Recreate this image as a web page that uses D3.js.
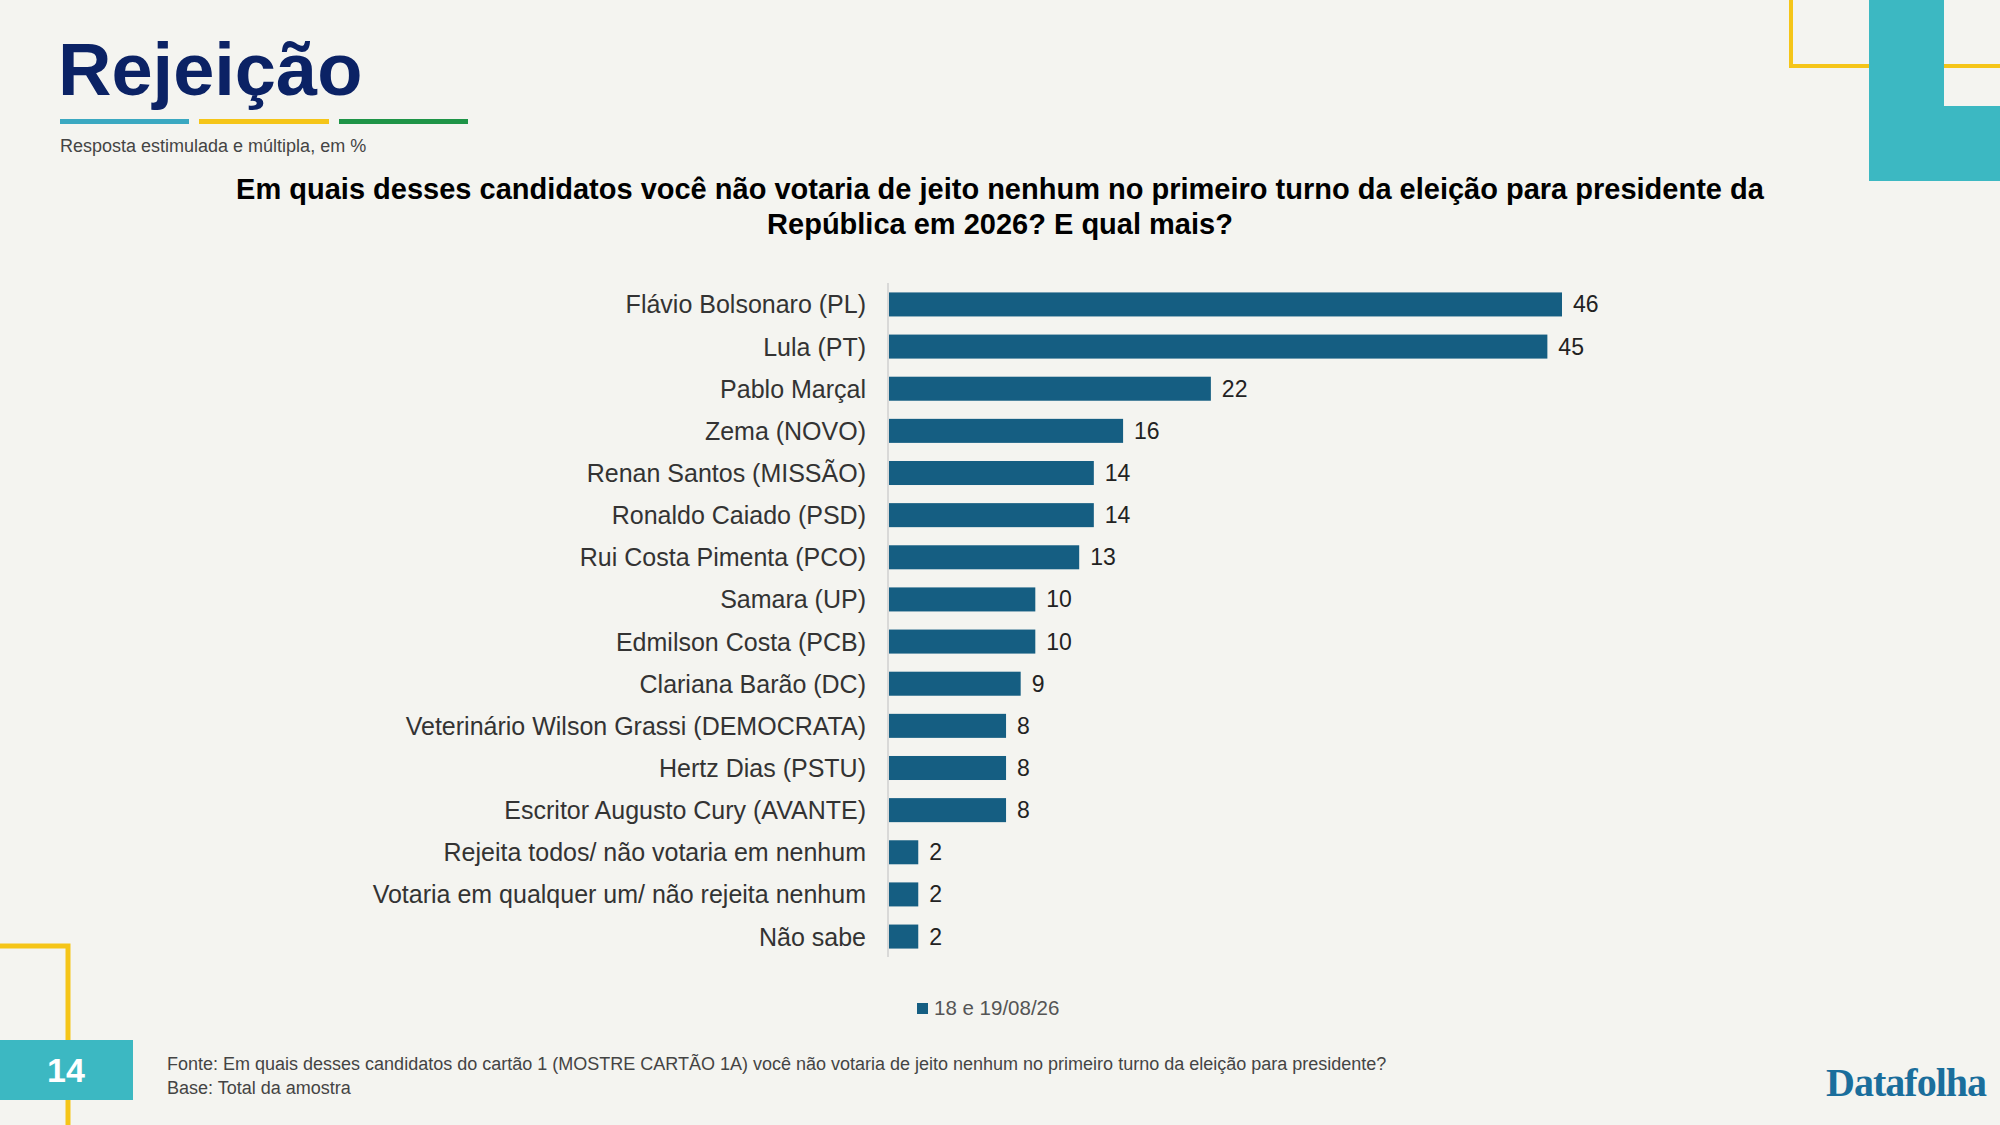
<!DOCTYPE html><html><head><meta charset="utf-8"><script src="https://cdn.jsdelivr.net/npm/d3@7"></script>
<style>body{margin:0;background:#f4f4f0}</style></head><body><svg id="c" width="2000" height="1125"></svg>
<script>
const categories=["Flávio Bolsonaro (PL)","Lula (PT)","Pablo Marçal","Zema (NOVO)","Renan Santos (MISSÃO)","Ronaldo Caiado (PSD)","Rui Costa Pimenta (PCO)","Samara (UP)","Edmilson Costa (PCB)","Clariana Barão (DC)","Veterinário Wilson Grassi (DEMOCRATA)","Hertz Dias (PSTU)","Escritor Augusto Cury (AVANTE)","Rejeita todos/ não votaria em nenhum","Votaria em qualquer um/ não rejeita nenhum","Não sabe"];
const values=[46,45,22,16,14,14,13,10,10,9,8,8,8,2,2,2];
const seriesName="18 e 19/08/26";
const svg=d3.select("#c");
const F="'Liberation Sans',Arial,sans-serif";
svg.append("rect").attr("width",2000).attr("height",1125).attr("fill","#f4f4f0");
svg.append("path").attr("d","M1791,0V66H2000").attr("fill","none").attr("stroke","#f5c518").attr("stroke-width",4);
svg.append("path").attr("d","M1869,0H1944V106H2000V181H1869Z").attr("fill","#3cb8c2");
svg.append("path").attr("d","M0,946H68V1125").attr("fill","none").attr("stroke","#f5c518").attr("stroke-width",5);
svg.append("rect").attr("x",0).attr("y",1040).attr("width",133).attr("height",60).attr("fill","#3cb8c2");
svg.append("text").attr("x",66).attr("y",1082).attr("text-anchor","middle").attr("fill","#fff").attr("font-family",F).attr("font-weight","bold").attr("font-size",34).text("14");
svg.append("text").attr("x",58).attr("y",95).attr("fill","#0b2265").attr("font-family",F).attr("font-weight","bold").attr("font-size",74).text("Rejeição");
[["#3aa8c1",60,189],["#f5c518",199,329],["#1e9447",339,468]].forEach(([c,a,b])=>svg.append("rect").attr("x",a).attr("y",119).attr("width",b-a).attr("height",5).attr("fill",c));
svg.append("text").attr("x",60).attr("y",152).attr("fill","#444").attr("font-family",F).attr("font-size",18).text("Resposta estimulada e múltipla, em %");
const q=svg.append("text").attr("text-anchor","middle").attr("fill","#000").attr("font-family",F).attr("font-weight","bold").attr("font-size",29);
q.append("tspan").attr("x",1000).attr("y",199).text("Em quais desses candidatos você não votaria de jeito nenhum no primeiro turno da eleição para presidente da");
q.append("tspan").attr("x",1000).attr("y",234).text("República em 2026? E qual mais?");
const x=d3.scaleLinear().domain([0,46]).range([888,1561]);
const y=d3.scaleBand().domain(categories).range([284,957]).paddingInner(0.43).paddingOuter(0.2);
svg.append("line").attr("x1",888).attr("x2",888).attr("y1",283).attr("y2",957).attr("stroke","#d0d0d0").attr("stroke-width",1.5);
const g=svg.append("g");
g.selectAll("rect.b").data(values).join("rect").attr("class","b").attr("x",x(0)+1).attr("y",(d,i)=>y(categories[i])).attr("width",d=>x(d)-x(0)).attr("height",y.bandwidth()).attr("fill","#155e82");
g.selectAll("text.v").data(values).join("text").attr("class","v").attr("x",d=>x(d)+12).attr("y",(d,i)=>y(categories[i])+y.bandwidth()/2+8).attr("font-family",F).attr("font-size",23).attr("fill","#222").text(d=>d);
g.selectAll("text.l").data(categories).join("text").attr("class","l").attr("x",866).attr("y",d=>y(d)+y.bandwidth()/2+9).attr("text-anchor","end").attr("font-family",F).attr("font-size",25).attr("fill","#333").text(d=>d);
svg.append("rect").attr("x",917).attr("y",1003).attr("width",11).attr("height",11).attr("fill","#155e82");
svg.append("text").attr("x",934).attr("y",1015).attr("font-family",F).attr("font-size",20.5).attr("fill","#555").text(seriesName);
svg.append("text").attr("x",167).attr("y",1070).attr("font-family",F).attr("font-size",18).attr("fill","#444").text("Fonte: Em quais desses candidatos do cartão 1 (MOSTRE CARTÃO 1A) você não votaria de jeito nenhum no primeiro turno da eleição para presidente?");
svg.append("text").attr("x",167).attr("y",1094).attr("font-family",F).attr("font-size",18).attr("fill","#444").text("Base: Total da amostra");
svg.append("text").attr("x",1986).attr("y",1096).attr("text-anchor","end").attr("font-family","Liberation Serif,serif").attr("font-weight","bold").attr("font-size",40).attr("fill","#1a6e9c").attr("letter-spacing",-1).text("Datafolha");
</script></body></html>
